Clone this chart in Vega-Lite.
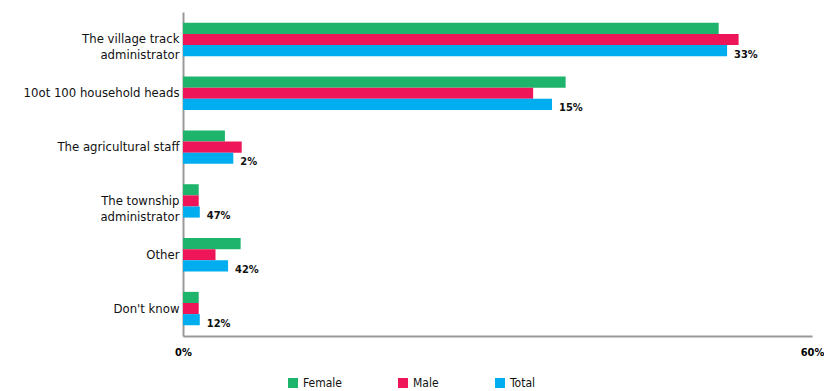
{
  "$schema": "https://vega.github.io/schema/vega-lite/v6.json",
  "autosize": {"type": "none"},
  "width": 629,
  "height": 324,
  "padding": {"left": 183, "top": 12, "right": 12, "bottom": 55},
  "background": "white",
  "config": {
    "font": "DejaVu Sans Condensed, Roboto, sans-serif",
    "view": {"stroke": null}
  },
  "data": {
    "values": [
      {"cat": "The village track|administrator", "group": "Female", "value": 51.1, "label": ""},
      {"cat": "The village track|administrator", "group": "Male", "value": 53.0, "label": ""},
      {"cat": "The village track|administrator", "group": "Total", "value": 51.9, "label": "33%"},
      {"cat": "10ot 100 household heads", "group": "Female", "value": 36.5, "label": ""},
      {"cat": "10ot 100 household heads", "group": "Male", "value": 33.4, "label": ""},
      {"cat": "10ot 100 household heads", "group": "Total", "value": 35.2, "label": "15%"},
      {"cat": "The agricultural staff", "group": "Female", "value": 4.0, "label": ""},
      {"cat": "The agricultural staff", "group": "Male", "value": 5.6, "label": ""},
      {"cat": "The agricultural staff", "group": "Total", "value": 4.8, "label": "2%"},
      {"cat": "The township|administrator", "group": "Female", "value": 1.5, "label": ""},
      {"cat": "The township|administrator", "group": "Male", "value": 1.5, "label": ""},
      {"cat": "The township|administrator", "group": "Total", "value": 1.6, "label": "47%"},
      {"cat": "Other", "group": "Female", "value": 5.5, "label": ""},
      {"cat": "Other", "group": "Male", "value": 3.1, "label": ""},
      {"cat": "Other", "group": "Total", "value": 4.3, "label": "42%"},
      {"cat": "Don't know", "group": "Female", "value": 1.5, "label": ""},
      {"cat": "Don't know", "group": "Male", "value": 1.5, "label": ""},
      {"cat": "Don't know", "group": "Total", "value": 1.6, "label": "12%"}
    ]
  },
  "encoding": {
    "y": {
      "field": "cat", "type": "nominal", "sort": null,
      "scale": {"paddingInner": 0.38, "paddingOuter": 0.2},
      "axis": {
        "title": null, "ticks": false, "domainColor": "#999999", "domainWidth": 2,
        "labelExpr": "split(datum.label, '|')",
        "labelFontSize": 13, "labelColor": "#111111", "labelPadding": 4, "labelLineHeight": 16
      }
    },
    "yOffset": {"field": "group", "type": "nominal", "sort": ["Female", "Male", "Total"]},
    "x": {
      "field": "value", "type": "quantitative",
      "scale": {"domain": [0, 60], "nice": false},
      "axis": {
        "title": null, "values": [0, 60], "grid": false, "ticks": false,
        "labelExpr": "datum.value + '%'", "labelFontWeight": "bold", "labelFontSize": 11,
        "labelPadding": 10, "domainColor": "#999999", "domainWidth": 2, "labelFlush": false
      }
    }
  },
  "layer": [
    {
      "mark": {"type": "bar"},
      "encoding": {
        "color": {
          "field": "group", "type": "nominal",
          "scale": {"domain": ["Female", "Male", "Total"], "range": ["#1fb46c", "#ee1559", "#00adef"]},
          "legend": {
            "title": null, "orient": "none", "direction": "horizontal",
            "legendX": 104, "legendY": 365, "symbolType": "square", "symbolSize": 100,
            "symbolStrokeWidth": 0, "labelFontSize": 12, "columnPadding": 55, "labelColor": "#111111"
          }
        }
      }
    },
    {
      "mark": {"type": "text", "align": "left", "dx": 7, "dy": 4, "fontWeight": "bold", "fontSize": 11, "color": "#111111"},
      "encoding": {"text": {"field": "label"}}
    }
  ]
}
